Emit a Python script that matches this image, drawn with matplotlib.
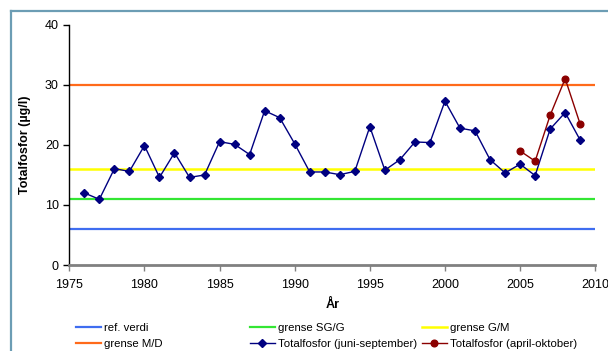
import matplotlib
matplotlib.use("Agg")
import matplotlib.pyplot as plt
from matplotlib.lines import Line2D

plt.rcParams['font.family'] = ['Liberation Sans', 'DejaVu Sans']

# Totalfosfor, juni-september
years_summer = list(range(1976, 2010))
tp_summer = [12.0, 10.95, 16.05, 15.6, 19.9, 14.6, 18.7, 14.6, 15.0, 20.55,
             20.1, 18.4, 25.7, 24.55, 20.2, 15.5, 15.5, 15.05, 15.6, 23.05,
             15.8, 17.55, 20.5, 20.4, 27.3, 22.8, 22.35, 17.55, 15.35, 16.8,
             14.9, 22.65, 25.4, 20.8]

# Totalfosfor, april-oktober
years_season = [2005, 2006, 2007, 2008, 2009]
tp_season = [19.0, 17.3, 24.95, 31.05, 23.45]

# Klassegrenser
limit_years = list(range(1975, 2011))
ref_value = 6
limit_sg_g = 11
limit_g_m = 16
limit_m_d = 30

fig = plt.figure(figsize=(6.08, 3.51), dpi=100)
ax = fig.add_axes([0.114, 0.245, 0.865, 0.684])

h_ref, = ax.plot(limit_years, [ref_value] * len(limit_years), color='#3f6df0', lw=1.6, label='ref. verdi')
h_sg, = ax.plot(limit_years, [limit_sg_g] * len(limit_years), color='#33e633', lw=1.6, label='grense SG/G')
h_gm, = ax.plot(limit_years, [limit_g_m] * len(limit_years), color='#ffff00', lw=1.8, label='grense G/M')
h_md, = ax.plot(limit_years, [limit_m_d] * len(limit_years), color='#ff6a1a', lw=1.6, label='grense M/D')

h_sum, = ax.plot(years_summer, tp_summer, color='#000080', lw=1.0, marker='D', ms=4.2,
                 label='Totalfosfor (juni-september)')
h_sea, = ax.plot(years_season, tp_season, color='#8b0000', lw=1.0, marker='o', ms=4.8,
                 label='Totalfosfor (april-oktober)')

ax.set_xlim(1975, 2010)
ax.set_ylim(0, 40)
ax.set_xticks(range(1975, 2011, 5))
ax.set_yticks(range(0, 41, 10))
ax.tick_params(labelsize=9, length=4, width=1, direction='out')
ax.tick_params(axis='x', color='#808080', pad=6)
ax.spines['top'].set_visible(False)
ax.spines['right'].set_visible(False)
ax.spines['bottom'].set_color('#808080')
ax.spines['bottom'].set_linewidth(2)
ax.spines['left'].set_linewidth(1)

ax.set_xlabel('År', fontsize=9, fontweight='bold', labelpad=6)
ax.set_ylabel('Totalfosfor (µg/l)', fontsize=9, fontweight='bold', labelpad=10)

# legend in three fixed columns, like the spreadsheet layout
columns = [(h_ref, h_md), (h_sg, h_sum), (h_gm, h_sea)]
col_x = [0.125, 0.411, 0.694]
for handles, x in zip(columns, col_x):
    fig.legend(handles=list(handles), loc='upper left', bbox_to_anchor=(x, 0.08),
               frameon=False, fontsize=8.2, handlelength=2.2, handletextpad=0.25,
               labelspacing=0.5, borderpad=0, borderaxespad=0)

# chart area border
border = '#6c9db4'
fig.add_artist(Line2D([11 / 608, 11 / 608], [0, 1 - 11 / 351], transform=fig.transFigure,
                      color=border, lw=1.6))
fig.add_artist(Line2D([11 / 608, 1], [1 - 11 / 351, 1 - 11 / 351], transform=fig.transFigure,
                      color=border, lw=1.6))

fig.savefig('out.png', dpi=100)
